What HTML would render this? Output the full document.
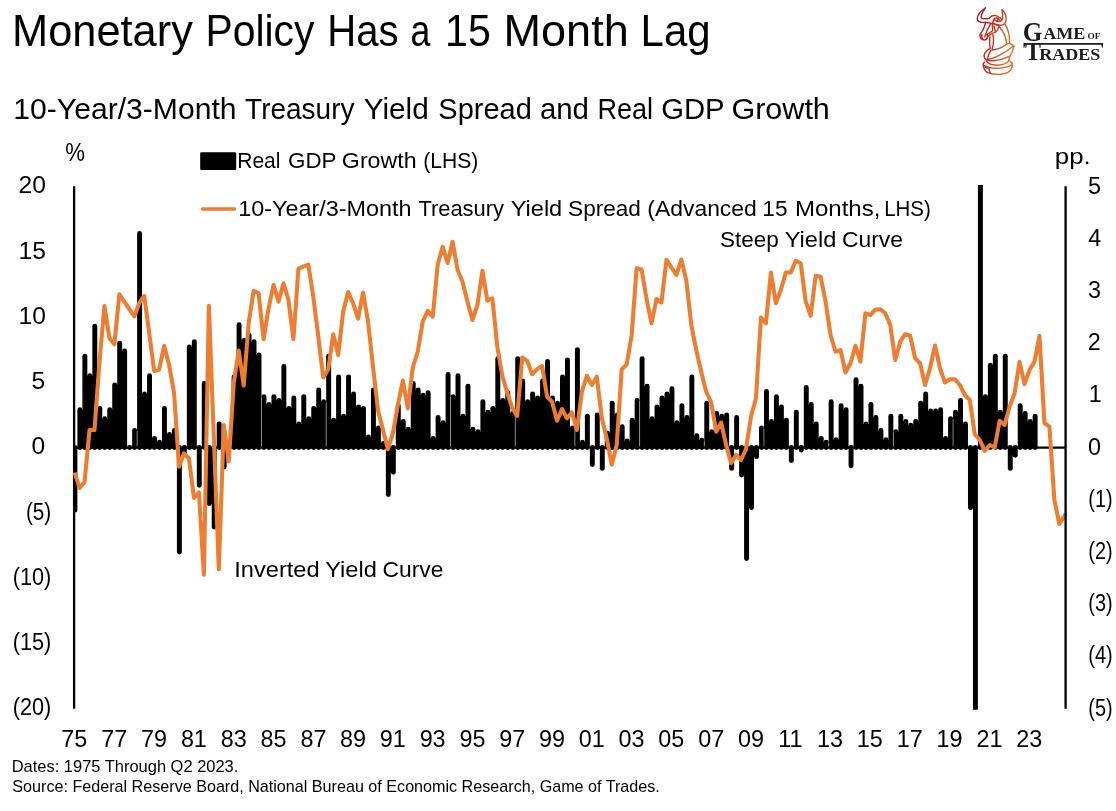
<!DOCTYPE html>
<html lang="en">
<head>
<meta charset="utf-8">
<title>Monetary Policy Has a 15 Month Lag</title>
<style>
html,body{margin:0;padding:0;background:#fff;}
body{width:1116px;height:811px;overflow:hidden;}
svg{display:block;}
text{font-family:"Liberation Sans",sans-serif;fill:#000;}
.serif{font-family:"Liberation Serif",serif;font-weight:bold;fill:#1c1c1c;}
</style>
</head>
<body>
<svg width="1116" height="811" viewBox="0 0 1116 811">
<defs><linearGradient id="lg" gradientUnits="userSpaceOnUse" x1="200" y1="0" x2="900" y2="120"><stop offset="0" stop-color="#ad0f18"/><stop offset="0.55" stop-color="#c6301e"/><stop offset="1" stop-color="#dc6a1e"/></linearGradient><clipPath id="plot"><rect x="73" y="185" width="994" height="524.7"/></clipPath></defs>
<rect width="1116" height="811" fill="#fff"/>
<text y="46.4" font-size="44.6"><tspan x="12.03" textLength="180.89" lengthAdjust="spacingAndGlyphs">Monetary</tspan> <tspan x="205.54" textLength="108.92" lengthAdjust="spacingAndGlyphs">Policy</tspan> <tspan x="327.2" textLength="71.27" lengthAdjust="spacingAndGlyphs">Has</tspan> <tspan x="410.5" textLength="19.85" lengthAdjust="spacingAndGlyphs">a</tspan> <tspan x="445.02" textLength="45.77" lengthAdjust="spacingAndGlyphs">15</tspan> <tspan x="503.6" textLength="125.08" lengthAdjust="spacingAndGlyphs">Month</tspan> <tspan x="640.55" textLength="70.03" lengthAdjust="spacingAndGlyphs">Lag</tspan></text>
<text y="119.2" font-size="30.4"><tspan x="13.29" textLength="223.23" lengthAdjust="spacingAndGlyphs">10-Year/3-Month</tspan> <tspan x="245.09" textLength="109.42" lengthAdjust="spacingAndGlyphs">Treasury</tspan> <tspan x="363.75" textLength="65" lengthAdjust="spacingAndGlyphs">Yield</tspan> <tspan x="438.33" textLength="93.48" lengthAdjust="spacingAndGlyphs">Spread</tspan> <tspan x="539.91" textLength="49.08" lengthAdjust="spacingAndGlyphs">and</tspan> <tspan x="597.42" textLength="55.73" lengthAdjust="spacingAndGlyphs">Real</tspan> <tspan x="661.31" textLength="62.74" lengthAdjust="spacingAndGlyphs">GDP</tspan> <tspan x="731.43" textLength="98.45" lengthAdjust="spacingAndGlyphs">Growth</tspan></text>
<text x="65.16" y="161" textLength="19.74" lengthAdjust="spacingAndGlyphs" font-size="26.3">%</text>
<text x="1054.88" y="164.4" textLength="35.85" lengthAdjust="spacingAndGlyphs" font-size="22.7">pp.</text>
<text y="167.6" font-size="22.7"><tspan x="237.26" textLength="43.19" lengthAdjust="spacingAndGlyphs">Real</tspan> <tspan x="288.02" textLength="48.02" lengthAdjust="spacingAndGlyphs">GDP</tspan> <tspan x="341.88" textLength="74.73" lengthAdjust="spacingAndGlyphs">Growth</tspan> <tspan x="423.16" textLength="55.1" lengthAdjust="spacingAndGlyphs">(LHS)</tspan></text>
<text y="215.6" font-size="22.7"><tspan x="238.28" textLength="173.37" lengthAdjust="spacingAndGlyphs">10-Year/3-Month</tspan> <tspan x="418.38" textLength="85.63" lengthAdjust="spacingAndGlyphs">Treasury</tspan> <tspan x="510.71" textLength="51.52" lengthAdjust="spacingAndGlyphs">Yield</tspan> <tspan x="568.11" textLength="72.79" lengthAdjust="spacingAndGlyphs">Spread</tspan> <tspan x="647.35" textLength="109.43" lengthAdjust="spacingAndGlyphs">(Advanced</tspan> <tspan x="762.34" textLength="25.18" lengthAdjust="spacingAndGlyphs">15</tspan> <tspan x="794.94" textLength="85.42" lengthAdjust="spacingAndGlyphs">Months,</tspan> <tspan x="884.2" textLength="46.64" lengthAdjust="spacingAndGlyphs">LHS)</tspan></text>
<text y="246.6" font-size="22.7"><tspan x="719.91" textLength="58.85" lengthAdjust="spacingAndGlyphs">Steep</tspan> <tspan x="784.71" textLength="51.62" lengthAdjust="spacingAndGlyphs">Yield</tspan> <tspan x="841.99" textLength="60.88" lengthAdjust="spacingAndGlyphs">Curve</tspan></text>
<text y="577.1" font-size="22.7"><tspan x="234.22" textLength="85.46" lengthAdjust="spacingAndGlyphs">Inverted</tspan> <tspan x="325.21" textLength="51.62" lengthAdjust="spacingAndGlyphs">Yield</tspan> <tspan x="382.6" textLength="60.77" lengthAdjust="spacingAndGlyphs">Curve</tspan></text>
<text x="18.47" y="193.4" font-size="24.6">20</text>
<text x="18.47" y="258.65" font-size="24.6">15</text>
<text x="18.47" y="323.9" font-size="24.6">10</text>
<text x="31.53" y="389.15" font-size="24.6">5</text>
<text x="31.53" y="454.4" font-size="24.6">0</text>
<text x="25.88" y="519.65" textLength="25.3" lengthAdjust="spacingAndGlyphs" font-size="24.6">(5)</text>
<text x="12.73" y="584.9" textLength="38.52" lengthAdjust="spacingAndGlyphs" font-size="24.6">(10)</text>
<text x="12.73" y="650.15" textLength="38.52" lengthAdjust="spacingAndGlyphs" font-size="24.6">(15)</text>
<text x="12.73" y="715.4" textLength="38.52" lengthAdjust="spacingAndGlyphs" font-size="24.6">(20)</text>
<text x="1088.05" y="193.5" textLength="13" lengthAdjust="spacingAndGlyphs" font-size="24.6">5</text>
<text x="1088.37" y="245.7" textLength="13" lengthAdjust="spacingAndGlyphs" font-size="24.6">4</text>
<text x="1088.05" y="297.9" textLength="13" lengthAdjust="spacingAndGlyphs" font-size="24.6">3</text>
<text x="1087.73" y="350.1" textLength="13" lengthAdjust="spacingAndGlyphs" font-size="24.6">2</text>
<text x="1088.7" y="402.3" textLength="13" lengthAdjust="spacingAndGlyphs" font-size="24.6">1</text>
<text x="1088.05" y="454.5" textLength="13" lengthAdjust="spacingAndGlyphs" font-size="24.6">0</text>
<text x="1088.32" y="506.7" textLength="24.31" lengthAdjust="spacingAndGlyphs" font-size="24.6">(1)</text>
<text x="1088.32" y="558.9" textLength="24.31" lengthAdjust="spacingAndGlyphs" font-size="24.6">(2)</text>
<text x="1088.32" y="611.1" textLength="24.31" lengthAdjust="spacingAndGlyphs" font-size="24.6">(3)</text>
<text x="1088.32" y="663.3" textLength="24.31" lengthAdjust="spacingAndGlyphs" font-size="24.6">(4)</text>
<text x="1088.32" y="715.5" textLength="24.31" lengthAdjust="spacingAndGlyphs" font-size="24.6">(5)</text>
<text x="61.36" y="747.2" textLength="25.99" lengthAdjust="spacingAndGlyphs" font-size="24.6">75</text>
<text x="101.31" y="747.2" textLength="25.99" lengthAdjust="spacingAndGlyphs" font-size="24.6">77</text>
<text x="140.94" y="747.2" textLength="25.99" lengthAdjust="spacingAndGlyphs" font-size="24.6">79</text>
<text x="180.89" y="747.2" textLength="25.99" lengthAdjust="spacingAndGlyphs" font-size="24.6">81</text>
<text x="220.68" y="747.2" textLength="25.99" lengthAdjust="spacingAndGlyphs" font-size="24.6">83</text>
<text x="260.47" y="747.2" textLength="25.99" lengthAdjust="spacingAndGlyphs" font-size="24.6">85</text>
<text x="300.42" y="747.2" textLength="25.99" lengthAdjust="spacingAndGlyphs" font-size="24.6">87</text>
<text x="340.05" y="747.2" textLength="25.99" lengthAdjust="spacingAndGlyphs" font-size="24.6">89</text>
<text x="379.84" y="747.2" textLength="25.99" lengthAdjust="spacingAndGlyphs" font-size="24.6">91</text>
<text x="419.63" y="747.2" textLength="25.99" lengthAdjust="spacingAndGlyphs" font-size="24.6">93</text>
<text x="459.42" y="747.2" textLength="25.99" lengthAdjust="spacingAndGlyphs" font-size="24.6">95</text>
<text x="499.37" y="747.2" textLength="25.99" lengthAdjust="spacingAndGlyphs" font-size="24.6">97</text>
<text x="539" y="747.2" textLength="25.99" lengthAdjust="spacingAndGlyphs" font-size="24.6">99</text>
<text x="578.79" y="747.2" textLength="25.99" lengthAdjust="spacingAndGlyphs" font-size="24.6">01</text>
<text x="618.58" y="747.2" textLength="25.99" lengthAdjust="spacingAndGlyphs" font-size="24.6">03</text>
<text x="658.37" y="747.2" textLength="25.99" lengthAdjust="spacingAndGlyphs" font-size="24.6">05</text>
<text x="698.31" y="747.2" textLength="25.99" lengthAdjust="spacingAndGlyphs" font-size="24.6">07</text>
<text x="737.95" y="747.2" textLength="25.99" lengthAdjust="spacingAndGlyphs" font-size="24.6">09</text>
<text x="778.21" y="747.2" textLength="24.25" lengthAdjust="spacingAndGlyphs" font-size="24.6">11</text>
<text x="817.05" y="747.2" textLength="25.99" lengthAdjust="spacingAndGlyphs" font-size="24.6">13</text>
<text x="856.84" y="747.2" textLength="25.99" lengthAdjust="spacingAndGlyphs" font-size="24.6">15</text>
<text x="896.79" y="747.2" textLength="25.99" lengthAdjust="spacingAndGlyphs" font-size="24.6">17</text>
<text x="936.42" y="747.2" textLength="25.99" lengthAdjust="spacingAndGlyphs" font-size="24.6">19</text>
<text x="976.53" y="747.2" textLength="25.99" lengthAdjust="spacingAndGlyphs" font-size="24.6">21</text>
<text x="1016.32" y="747.2" textLength="25.99" lengthAdjust="spacingAndGlyphs" font-size="24.6">23</text>
<text x="11.66" y="771.6" textLength="226.7" lengthAdjust="spacingAndGlyphs" font-size="16.4">Dates: 1975 Through Q2 2023.</text>
<text x="12.34" y="791.6" textLength="647.48" lengthAdjust="spacingAndGlyphs" font-size="16.4">Source: Federal Reserve Board, National Bureau of Economic Research, Game of Trades.</text>
<g clip-path="url(#plot)" fill="none" stroke="#000" stroke-width="4.95" stroke-linecap="round">
<path d="M74.9,447.5V510.14"/><path d="M79.88,447.5V409.65"/><path d="M84.85,447.5V356.15"/><path d="M89.83,447.5V375.73"/><path d="M94.8,447.5V326.13"/><path d="M99.78,447.5V408.35"/><path d="M104.75,447.5V418.79"/><path d="M109.73,447.5V409.65"/>
<path d="M114.7,447.5V384.86"/><path d="M119.68,447.5V343.1"/><path d="M124.65,447.5V350.93"/><path d="M129.63,447.5V447.5"/><path d="M134.6,447.5V430.54"/><path d="M139.58,447.5V233.48"/><path d="M144.55,447.5V394"/><path d="M149.53,447.5V375.73"/>
<path d="M154.5,447.5V438.37"/><path d="M159.48,447.5V442.28"/><path d="M164.46,447.5V408.35"/><path d="M169.43,447.5V434.45"/><path d="M174.41,447.5V430.54"/><path d="M179.38,447.5V551.9"/><path d="M184.36,447.5V454.02"/><path d="M189.33,447.5V347.01"/>
<path d="M194.31,447.5V341.8"/><path d="M199.28,447.5V485.35"/><path d="M204.26,447.5V383.56"/><path d="M209.23,447.5V503.62"/><path d="M214.21,447.5V527.11"/><path d="M219.18,447.5V424.01"/><path d="M224.16,447.5V467.07"/><path d="M229.13,447.5V444.89"/>
<path d="M234.11,447.5V377.03"/><path d="M239.08,447.5V324.83"/><path d="M244.06,447.5V340.49"/><path d="M249.04,447.5V335.27"/><path d="M254.01,447.5V341.8"/><path d="M258.99,447.5V354.85"/><path d="M263.96,447.5V396.61"/><path d="M268.94,447.5V404.44"/>
<path d="M273.91,447.5V396.61"/><path d="M278.89,447.5V400.52"/><path d="M283.86,447.5V366.59"/><path d="M288.84,447.5V408.35"/><path d="M293.81,447.5V397.91"/><path d="M298.79,447.5V424.01"/><path d="M303.76,447.5V396.61"/><path d="M308.74,447.5V418.79"/>
<path d="M313.71,447.5V408.35"/><path d="M318.69,447.5V390.08"/><path d="M323.66,447.5V401.82"/><path d="M328.64,447.5V356.15"/><path d="M333.62,447.5V420.1"/><path d="M338.59,447.5V377.03"/><path d="M343.57,447.5V416.18"/><path d="M348.54,447.5V377.03"/>
<path d="M353.52,447.5V394"/><path d="M358.49,447.5V407.05"/><path d="M363.47,447.5V408.35"/><path d="M368.44,447.5V437.06"/><path d="M373.42,447.5V390.08"/><path d="M378.39,447.5V427.93"/><path d="M383.37,447.5V443.58"/><path d="M388.34,447.5V494.48"/>
<path d="M393.32,447.5V472.3"/><path d="M398.29,447.5V405.74"/><path d="M403.27,447.5V421.4"/><path d="M408.25,447.5V429.23"/><path d="M413.22,447.5V383.56"/><path d="M418.2,447.5V390.08"/><path d="M423.17,447.5V395.3"/><path d="M428.15,447.5V392.69"/>
<path d="M433.12,447.5V438.37"/><path d="M438.1,447.5V417.49"/><path d="M443.07,447.5V422.7"/><path d="M448.05,447.5V374.42"/><path d="M453.02,447.5V396.61"/><path d="M458,447.5V375.73"/><path d="M462.97,447.5V416.18"/><path d="M467.95,447.5V386.16"/>
<path d="M472.92,447.5V429.23"/><path d="M477.9,447.5V431.84"/><path d="M482.87,447.5V401.82"/><path d="M487.85,447.5V412.26"/><path d="M492.83,447.5V408.35"/><path d="M497.8,447.5V358.76"/><path d="M502.78,447.5V400.52"/><path d="M507.75,447.5V392.69"/>
<path d="M512.73,447.5V413.57"/><path d="M517.7,447.5V358.76"/><path d="M522.68,447.5V380.94"/><path d="M527.65,447.5V401.82"/><path d="M532.63,447.5V394"/><path d="M537.6,447.5V397.91"/><path d="M542.58,447.5V380.94"/><path d="M547.55,447.5V361.37"/>
<path d="M552.53,447.5V397.91"/><path d="M557.5,447.5V403.13"/><path d="M562.48,447.5V377.03"/><path d="M567.45,447.5V360.06"/><path d="M572.43,447.5V427.93"/><path d="M577.41,447.5V349.62"/><path d="M582.38,447.5V442.28"/><path d="M587.36,447.5V416.18"/>
<path d="M592.33,447.5V464.46"/><path d="M597.31,447.5V414.88"/><path d="M602.28,447.5V468.38"/><path d="M607.26,447.5V433.14"/><path d="M612.23,447.5V403.13"/><path d="M617.21,447.5V414.88"/><path d="M622.18,447.5V426.62"/><path d="M627.16,447.5V440.98"/>
<path d="M632.13,447.5V420.1"/><path d="M637.11,447.5V400.52"/><path d="M642.08,447.5V358.76"/><path d="M647.06,447.5V386.16"/><path d="M652.03,447.5V418.79"/><path d="M657.01,447.5V407.05"/><path d="M661.99,447.5V397.91"/><path d="M666.96,447.5V394"/>
<path d="M671.94,447.5V388.77"/><path d="M676.91,447.5V422.7"/><path d="M681.89,447.5V405.74"/><path d="M686.86,447.5V417.49"/><path d="M691.84,447.5V377.03"/><path d="M696.81,447.5V435.75"/><path d="M701.79,447.5V440.32"/><path d="M706.76,447.5V403.13"/>
<path d="M711.74,447.5V431.84"/><path d="M716.71,447.5V413.57"/><path d="M721.69,447.5V416.18"/><path d="M726.66,447.5V414.88"/><path d="M731.64,447.5V468.38"/><path d="M736.61,447.5V417.49"/><path d="M741.59,447.5V474.9"/><path d="M746.57,447.5V558.42"/>
<path d="M751.54,447.5V507.53"/><path d="M756.52,447.5V456.63"/><path d="M761.49,447.5V427.93"/><path d="M766.47,447.5V391.38"/><path d="M771.44,447.5V421.4"/><path d="M776.42,447.5V396.61"/><path d="M781.39,447.5V407.05"/><path d="M786.37,447.5V420.1"/>
<path d="M791.34,447.5V460.55"/><path d="M796.32,447.5V412.26"/><path d="M801.29,447.5V450.11"/><path d="M806.27,447.5V387.47"/><path d="M811.24,447.5V404.44"/><path d="M816.22,447.5V424.01"/><path d="M821.19,447.5V438.37"/><path d="M826.17,447.5V442.28"/>
<path d="M831.15,447.5V401.82"/><path d="M836.12,447.5V439.67"/><path d="M841.1,447.5V405.74"/><path d="M846.07,447.5V409.65"/><path d="M851.05,447.5V465.77"/><path d="M856.02,447.5V379.64"/><path d="M861,447.5V386.16"/><path d="M865.97,447.5V424.01"/>
<path d="M870.95,447.5V404.44"/><path d="M875.92,447.5V417.49"/><path d="M880.9,447.5V430.54"/><path d="M885.87,447.5V439.67"/><path d="M890.85,447.5V416.18"/><path d="M895.82,447.5V431.84"/><path d="M900.8,447.5V416.18"/><path d="M905.78,447.5V421.4"/>
<path d="M910.75,447.5V425.31"/><path d="M915.73,447.5V421.4"/><path d="M920.7,447.5V403.13"/><path d="M925.68,447.5V394"/><path d="M930.65,447.5V410.96"/><path d="M935.63,447.5V410.96"/><path d="M940.6,447.5V409.65"/><path d="M945.58,447.5V438.37"/>
<path d="M950.55,447.5V418.79"/><path d="M955.53,447.5V412.26"/><path d="M960.5,447.5V400.52"/><path d="M965.48,447.5V424.01"/><path d="M970.45,447.5V507.53"/><path d="M975.43,447.5V837.69"/><path d="M980.4,447.5V-13.16"/><path d="M985.38,447.5V396.61"/>
<path d="M990.36,447.5V365.28"/><path d="M995.33,447.5V356.15"/><path d="M1000.31,447.5V412.26"/><path d="M1005.28,447.5V356.15"/><path d="M1010.26,447.5V468.38"/><path d="M1015.23,447.5V455.33"/><path d="M1020.21,447.5V405.74"/><path d="M1025.18,447.5V413.57"/>
<path d="M1030.16,447.5V421.4"/><path d="M1035.13,447.5V416.18"/>
</g>
<path clip-path="url(#plot)" fill="#000" d="M80.88,447.5H83.85V409.65H80.88ZM85.85,447.5H88.83V375.73H85.85ZM90.83,447.5H93.8V375.73H90.83ZM95.8,447.5H98.78V408.35H95.8ZM100.78,447.5H103.75V418.79H100.78ZM105.75,447.5H108.73V418.79H105.75ZM110.73,447.5H113.7V409.65H110.73ZM115.7,447.5H118.68V384.86H115.7ZM120.68,447.5H123.65V350.93H120.68ZM140.58,447.5H143.55V394H140.58ZM145.55,447.5H148.53V394H145.55ZM150.53,447.5H153.5V438.37H150.53ZM155.5,447.5H158.48V442.28H155.5ZM160.48,447.5H163.46V442.28H160.48ZM165.46,447.5H168.43V434.45H165.46ZM170.43,447.5H173.41V434.45H170.43ZM180.38,447.5H183.36V454.02H180.38ZM190.33,447.5H193.31V347.01H190.33ZM210.23,447.5H213.21V503.62H210.23ZM230.13,447.5H233.11V444.89H230.13ZM235.11,447.5H238.08V377.03H235.11ZM240.08,447.5H243.06V340.49H240.08ZM245.06,447.5H248.04V340.49H245.06ZM250.04,447.5H253.01V341.8H250.04ZM255.01,447.5H257.99V354.85H255.01ZM264.96,447.5H267.94V404.44H264.96ZM269.94,447.5H272.91V404.44H269.94ZM274.91,447.5H277.89V400.52H274.91ZM279.89,447.5H282.86V400.52H279.89ZM284.86,447.5H287.84V408.35H284.86ZM289.84,447.5H292.81V408.35H289.84ZM294.81,447.5H297.79V424.01H294.81ZM299.79,447.5H302.76V424.01H299.79ZM304.76,447.5H307.74V418.79H304.76ZM309.74,447.5H312.71V418.79H309.74ZM314.71,447.5H317.69V408.35H314.71ZM319.69,447.5H322.66V401.82H319.69ZM329.64,447.5H332.62V420.1H329.64ZM334.62,447.5H337.59V420.1H334.62ZM339.59,447.5H342.57V416.18H339.59ZM344.57,447.5H347.54V416.18H344.57ZM349.54,447.5H352.52V394H349.54ZM354.52,447.5H357.49V407.05H354.52ZM359.49,447.5H362.47V408.35H359.49ZM364.47,447.5H367.44V437.06H364.47ZM369.44,447.5H372.42V437.06H369.44ZM374.42,447.5H377.39V427.93H374.42ZM379.39,447.5H382.37V443.58H379.39ZM389.34,447.5H392.32V472.3H389.34ZM399.29,447.5H402.27V421.4H399.29ZM404.27,447.5H407.25V429.23H404.27ZM409.25,447.5H412.22V429.23H409.25ZM414.22,447.5H417.2V390.08H414.22ZM419.2,447.5H422.17V395.3H419.2ZM424.17,447.5H427.15V395.3H424.17ZM429.15,447.5H432.12V438.37H429.15ZM434.12,447.5H437.1V438.37H434.12ZM439.1,447.5H442.07V422.7H439.1ZM444.07,447.5H447.05V422.7H444.07ZM454.02,447.5H457V396.61H454.02ZM459,447.5H461.97V416.18H459ZM463.97,447.5H466.95V416.18H463.97ZM468.95,447.5H471.92V429.23H468.95ZM473.92,447.5H476.9V431.84H473.92ZM478.9,447.5H481.87V431.84H478.9ZM483.87,447.5H486.85V412.26H483.87ZM488.85,447.5H491.83V412.26H488.85ZM493.83,447.5H496.8V408.35H493.83ZM498.8,447.5H501.78V400.52H498.8ZM503.78,447.5H506.75V400.52H503.78ZM508.75,447.5H511.73V413.57H508.75ZM518.7,447.5H521.68V380.94H518.7ZM523.68,447.5H526.65V401.82H523.68ZM528.65,447.5H531.63V401.82H528.65ZM533.63,447.5H536.6V397.91H533.63ZM538.6,447.5H541.58V397.91H538.6ZM543.58,447.5H546.55V380.94H543.58ZM548.55,447.5H551.53V397.91H548.55ZM553.53,447.5H556.5V403.13H553.53ZM558.5,447.5H561.48V403.13H558.5ZM563.48,447.5H566.45V377.03H563.48ZM568.45,447.5H571.43V427.93H568.45ZM578.41,447.5H581.38V442.28H578.41ZM583.38,447.5H586.36V442.28H583.38ZM608.26,447.5H611.23V433.14H608.26ZM613.23,447.5H616.21V414.88H613.23ZM618.21,447.5H621.18V426.62H618.21ZM623.18,447.5H626.16V440.98H623.18ZM628.16,447.5H631.13V440.98H628.16ZM633.13,447.5H636.11V420.1H633.13ZM643.08,447.5H646.06V386.16H643.08ZM648.06,447.5H651.03V418.79H648.06ZM653.03,447.5H656.01V418.79H653.03ZM658.01,447.5H660.99V407.05H658.01ZM662.99,447.5H665.96V397.91H662.99ZM667.96,447.5H670.94V394H667.96ZM672.94,447.5H675.91V422.7H672.94ZM677.91,447.5H680.89V422.7H677.91ZM682.89,447.5H685.86V417.49H682.89ZM687.86,447.5H690.84V417.49H687.86ZM692.84,447.5H695.81V435.75H692.84ZM697.81,447.5H700.79V440.32H697.81ZM707.76,447.5H710.74V431.84H707.76ZM712.74,447.5H715.71V431.84H712.74ZM717.71,447.5H720.69V416.18H717.71ZM722.69,447.5H725.66V416.18H722.69ZM742.59,447.5H745.57V474.9H742.59ZM747.57,447.5H750.54V507.53H747.57ZM752.54,447.5H755.52V456.63H752.54ZM767.47,447.5H770.44V421.4H767.47ZM772.44,447.5H775.42V421.4H772.44ZM777.42,447.5H780.39V407.05H777.42ZM782.39,447.5H785.37V420.1H782.39ZM807.27,447.5H810.24V404.44H807.27ZM812.24,447.5H815.22V424.01H812.24ZM817.22,447.5H820.19V438.37H817.22ZM822.19,447.5H825.17V442.28H822.19ZM832.15,447.5H835.12V439.67H832.15ZM837.12,447.5H840.1V439.67H837.12ZM842.1,447.5H845.07V409.65H842.1ZM857.02,447.5H860V386.16H857.02ZM862,447.5H864.97V424.01H862ZM866.97,447.5H869.95V424.01H866.97ZM871.95,447.5H874.92V417.49H871.95ZM876.92,447.5H879.9V430.54H876.92ZM881.9,447.5H884.87V439.67H881.9ZM886.87,447.5H889.85V439.67H886.87ZM896.82,447.5H899.8V431.84H896.82ZM901.8,447.5H904.78V421.4H901.8ZM906.78,447.5H909.75V425.31H906.78ZM911.75,447.5H914.73V425.31H911.75ZM916.73,447.5H919.7V421.4H916.73ZM921.7,447.5H924.68V403.13H921.7ZM926.68,447.5H929.65V410.96H926.68ZM931.65,447.5H934.63V410.96H931.65ZM936.63,447.5H939.6V410.96H936.63ZM941.6,447.5H944.58V438.37H941.6ZM946.58,447.5H949.55V438.37H946.58ZM956.53,447.5H959.5V412.26H956.53ZM961.5,447.5H964.48V424.01H961.5ZM971.45,447.5H974.43V507.53H971.45ZM981.4,447.5H984.38V396.61H981.4ZM986.38,447.5H989.36V396.61H986.38ZM991.36,447.5H994.33V365.28H991.36ZM996.33,447.5H999.31V412.26H996.33ZM1001.31,447.5H1004.28V412.26H1001.31ZM1011.26,447.5H1014.23V455.33H1011.26ZM1021.21,447.5H1024.18V413.57H1021.21ZM1026.18,447.5H1029.16V421.4H1026.18ZM1031.16,447.5H1034.13V421.4H1031.16Z"/>
<path fill="none" stroke="#d8d8d8" stroke-width="0.55" d="M137.09,446.4V431.04M261.47,446.4V397.11M326.15,446.4V402.32M450.54,446.4V397.11M515.21,446.4V414.07M574.92,446.4V428.43M639.6,446.4V401.02M704.28,446.4V440.82M763.98,446.4V428.43M828.66,446.4V442.78M893.34,446.4V432.34M953.04,446.4V419.29"/>
<line x1="74.6" y1="447.65" x2="1065.6" y2="447.65" stroke="#000" stroke-width="2.4"/>
<line x1="74.1" y1="186.3" x2="74.1" y2="708.7" stroke="#000" stroke-width="2.3"/>
<polyline points="74.6,472.5 79.57,488 84.55,482 89.52,430 94.49,430 99.47,362 104.44,306 109.41,338.3 114.39,344.2 119.36,294.2 124.33,301.7 129.31,309 134.28,316.3 139.26,303 144.23,295.8 149.2,333 154.18,371 159.15,369.6 164.12,345.8 169.1,365 174.07,393 179.04,466.7 184.02,453.3 188.99,458.5 193.96,498 198.94,492.5 203.91,574.7 208.88,305.8 213.86,438 218.83,569.3 223.8,425 228.78,461.5 233.75,383 238.73,350.5 243.7,385.5 248.67,323.3 253.65,290.8 258.62,293.3 263.59,339.2 268.57,308.3 273.54,285 278.51,301.7 283.49,283.3 288.46,300 293.43,339.2 298.41,268.7 303.38,266.7 308.35,264.7 313.33,296.7 318.3,336.7 323.27,377.5 328.25,369.2 333.22,334.2 338.2,355 343.17,311.7 348.14,292 353.12,303.3 358.09,318.7 363.06,292.5 368.04,321.7 373.01,366.7 377.98,410 382.96,430 387.93,449.2 392.9,433.3 397.88,405 402.85,380.5 407.82,408.3 412.8,367.5 417.77,351.5 422.75,321.7 427.72,310.8 432.69,316.7 437.67,265 442.64,246.7 447.61,263 452.59,241.7 457.56,270 462.53,281.7 467.51,301.7 472.48,320 477.45,305 482.43,270.8 487.4,300.8 492.37,298.3 497.35,347 502.32,376 507.29,393 512.27,408 517.24,415.8 522.21,357.5 527.19,360.8 532.16,374.2 537.14,369.2 542.11,365.8 547.08,396.7 552.06,401.7 557.03,420.8 562,409.2 566.98,418.3 571.95,412.5 576.92,430 581.9,391.7 586.87,375.8 591.84,385 596.82,376.7 601.79,418 606.76,438.5 611.74,464.7 616.71,445 621.68,369.5 626.66,364.3 631.63,335.5 636.61,268.3 641.58,269.5 646.55,299 651.53,323.3 656.5,299 661.47,302.5 666.45,259.7 671.42,267.5 676.39,275 681.37,259.7 686.34,280.8 691.31,325 696.29,350.5 701.26,372 706.23,391.7 711.21,402.5 716.18,431.7 721.15,422.5 726.13,445 731.1,463.3 736.08,455 741.05,460 746.02,449 751,416.7 755.97,398.3 760.94,317.5 765.92,323.3 770.89,272.5 775.86,303.3 780.84,290 785.81,272.5 790.78,272.5 795.76,260.8 800.73,263.3 805.7,301.7 810.68,315.8 815.65,275.8 820.62,276.7 825.6,301.7 830.57,335 835.55,351.7 840.52,350 845.49,372.5 850.47,363.3 855.44,345.8 860.41,361.7 865.39,313.3 870.36,315 875.33,309.7 880.31,309.2 885.28,313.3 890.25,325 895.23,360 900.2,341.7 905.17,334.2 910.15,335.8 915.12,358.3 920.09,363.3 925.07,385 930.04,368 935.02,345.5 939.99,368.3 944.96,382.5 949.94,379.2 954.91,379.2 959.88,385 964.86,395 969.83,400 974.8,434.2 979.78,440 984.75,450.8 989.72,445 994.7,447.5 999.67,420.8 1004.64,425 1009.62,406.7 1014.59,393.3 1019.56,361.7 1024.54,384.2 1029.51,370 1034.49,361.7 1039.46,335.8 1044.43,423 1049.41,426.7 1054.38,500 1059.35,524 1064.33,516 1065.6,513.8" fill="none" stroke="#ED7D31" stroke-width="4.05" stroke-linejoin="round" stroke-linecap="butt"/>
<line x1="1065.6" y1="186.3" x2="1065.6" y2="708.7" stroke="#000" stroke-width="2.3"/>
<rect x="200.2" y="152.2" width="36" height="17.8" rx="1.3" fill="#000"/>
<line x1="202.3" y1="209" x2="234.6" y2="209" stroke="#ED7D31" stroke-width="3.3" stroke-linecap="round"/>
<g transform="translate(972,4) scale(0.04688)" fill="none" stroke="url(#lg)" stroke-width="29" stroke-linecap="round" stroke-linejoin="round">
<path d="M285,85 C200,140 120,230 112,305 C112,360 150,388 205,392 L290,392"/>
<path d="M285,85 C240,150 195,230 194,282 C196,306 215,312 240,313 L330,315 C350,312 362,306 372,298"/>
<path d="M372,298 C400,268 430,246 470,244 C530,246 590,285 640,332"/>
<path d="M640,125 C700,170 732,250 728,340 C722,400 690,445 630,452 C560,456 490,435 440,400"/>
<path d="M640,125 C652,200 660,280 650,335 C630,370 580,378 540,368 C515,360 495,350 480,338"/>
<path d="M440,400 C450,340 480,300 520,290 M520,290 L600,345 M560,300 L540,368"/>
<path d="M290,392 C280,440 255,510 228,565 C205,610 172,630 170,665 C172,720 215,765 268,770 C305,762 330,725 332,690 L322,652"/>
<path d="M400,420 C350,500 300,600 272,700 M210,650 C200,690 210,730 232,755"/>
<path d="M322,652 L430,575 M340,690 L425,625 C480,615 530,585 548,550 L575,468"/>
<path d="M290,392 L430,415 L575,468 M430,415 L440,560 M470,470 L500,600"/>
<path d="M380,700 C370,790 375,870 388,945"/>
<path d="M445,650 C470,740 460,850 428,968"/>
<path d="M700,425 C765,520 805,650 802,835"/>
<path d="M585,492 C670,580 725,700 738,845"/>
<path d="M428,982 C530,972 650,930 740,858 L800,832 L890,888 L895,910"/>
<path d="M388,945 C310,990 262,1060 256,1100 C258,1150 280,1180 312,1190"/>
<path d="M402,985 C360,1060 340,1120 330,1172"/>
<path d="M330,1180 C480,1170 690,1050 872,908"/>
<path d="M892,900 C880,980 850,1060 800,1135 L782,1205"/>
<path d="M312,1196 C440,1225 630,1195 792,1118"/>
<path d="M300,1215 C340,1270 440,1310 560,1305 C660,1298 750,1260 790,1208"/>
<path d="M275,1240 C240,1255 232,1280 240,1310 C250,1380 275,1430 325,1460 C400,1495 520,1505 620,1498 C720,1488 800,1450 830,1400 C850,1360 862,1310 860,1280 C855,1255 840,1240 815,1232"/>
<path d="M248,1310 C330,1355 450,1375 560,1372 C680,1366 790,1340 856,1300"/>
<path d="M280,1350 L362,1372 L382,1468"/>
</g>
<text class="serif"><tspan x="1022.8" y="40.5" font-size="27.2" textLength="19.6" lengthAdjust="spacingAndGlyphs">G</tspan><tspan x="1043.3" y="39.3" font-size="17.5" textLength="42.1" lengthAdjust="spacingAndGlyphs">AME</tspan> <tspan x="1087.5" y="39.3" font-size="8.8" textLength="13" lengthAdjust="spacingAndGlyphs">OF</tspan></text>
<text class="serif"><tspan x="1025.1" y="60.1" font-size="25.6" textLength="16" lengthAdjust="spacingAndGlyphs">T</tspan><tspan x="1039.3" y="60.3" font-size="17.5" textLength="61.1" lengthAdjust="spacingAndGlyphs">RADES</tspan></text>
<path d="M1023.5,43 H1102.9 V47.7 H1102.1 L1101.2,44.75 H1025.2 L1024.3,47.7 H1023.5 Z" fill="#1c1c1c"/>
</svg>
</body>
</html>
